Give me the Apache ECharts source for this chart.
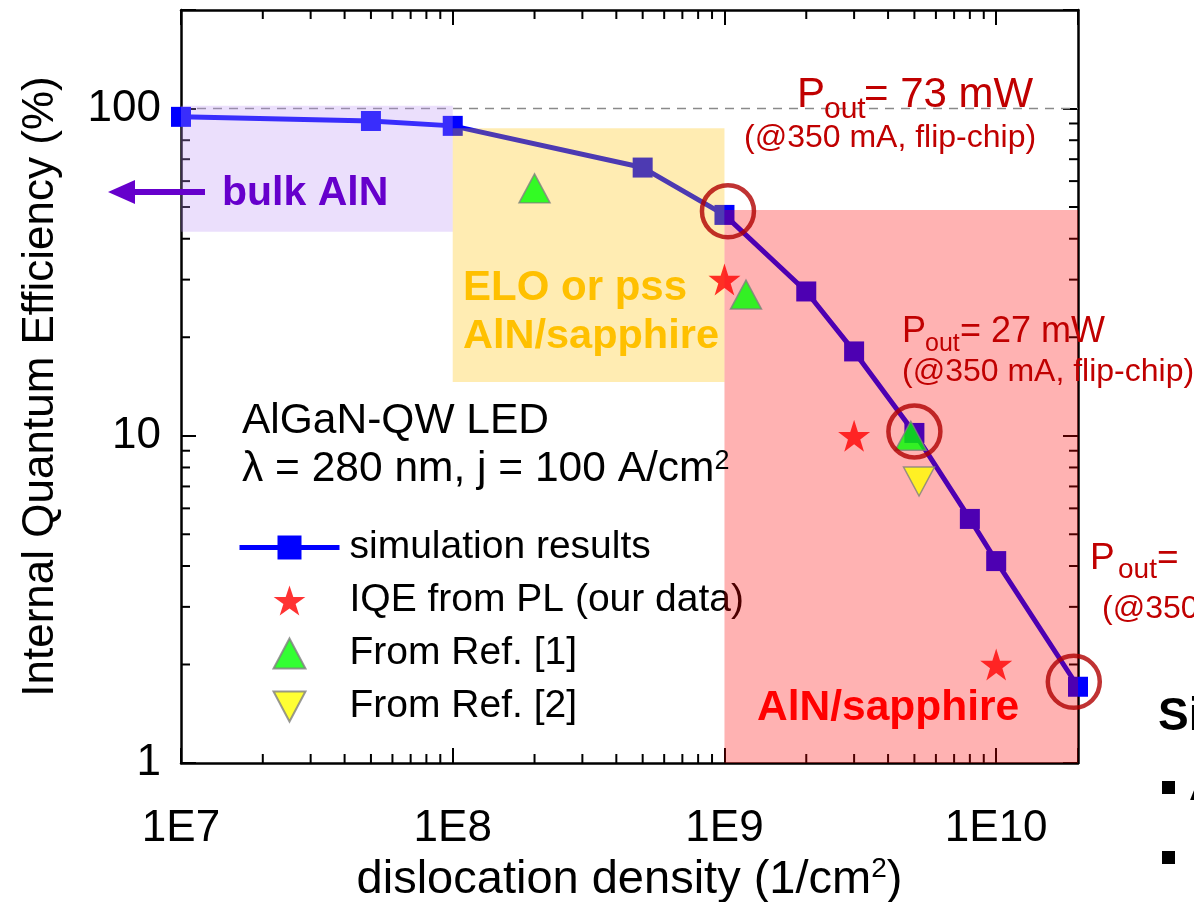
<!DOCTYPE html>
<html><head><meta charset="utf-8">
<script src="https://cdn.jsdelivr.net/npm/echarts@6/dist/echarts.min.js"></script>
<style>html,body{margin:0;padding:0;background:#fff}#c{width:1194px;height:902px}</style>
</head><body><div id="c"></div><script>
// ---- data ----
const simDensity = [1e7, 5e7, 1e8, 5e8, 1e9, 2e9, 3e9, 5e9, 8e9, 1e10, 2e10];
const simIQE     = [94.3, 91.6, 88.5, 66, 47.3, 27.6, 18.1, 10.2, 5.57, 4.14, 1.71];
const plDensity  = [1e9, 3e9, 1e10];
const plIQE      = [30, 10, 2.0];
const ref1Density = [2e8, 1.2e9, 4.85e9];
const ref1IQE     = [57, 27, 10];
const ref2Density = [5.2e9];
const ref2IQE     = [7.25];
const highlightDensity = [1.03e9, 5e9, 1.93e10];
const highlightIQE     = [48.5, 10.3, 1.77];
const guideDensity = [1e7, 2e10];
const guideIQE     = [100, 100];
const xTickLabels = {7: '1E7', 8: '1E8', 9: '1E9', 10: '1E10'};
const yTickLabels = {0: '1', 1: '10', 2: '100'};
const minorMultipliers = [2, 3, 4, 5, 6, 7, 8, 9];
const xMinorDecades = [1e7, 1e8, 1e9];
const yMinorDecades = [1, 10];
const seriesNames = ['simulation results', 'IQE from PL (our data)', 'From Ref. [1]', 'From Ref. [2]'];
const regionBulk     = [[1e7, 42], [1e8, 102]];
const regionELO      = [[1e8, 14.6], [1e9, 87]];
const regionSapphire = [[1e9, 1], [2e10, 49]];

// ---- helpers ----
const FONT = '"Liberation Sans", Arial, Helvetica, sans-serif';
const pair = (xs, ys) => xs.map((x, i) => [x, ys[i]]);
const xMinorTicks = [].concat(...xMinorDecades.map(d => minorMultipliers.map(m => m * d)));
const yMinorTicks = [].concat(...yMinorDecades.map(d => minorMultipliers.map(m => m * d)));
const decadeLabel = map => v => {
  const e = Math.log10(v), r = Math.round(e);
  return (Math.abs(e - r) < 1e-6 && map[r] !== undefined) ? map[r] : '';
};
const XMIN = 1e7, XMAX = 2e10, YMIN = 1, YMAX = 200;
const axisLine = {show: true, lineStyle: {color: '#000', width: 2.5}};
const axisTick = {show: true, inside: true, length: 15, lineStyle: {color: '#000', width: 2}};
const starPath = 'path://M50,0 L61.8,35.4 L99,35.4 L68.9,57.3 L80.3,92.7 L50,70.8 L19.7,92.7 L31.1,57.3 L1,35.4 L38.2,35.4 Z';
const triUpPath = 'path://M50,0 L100,94 L0,94 Z';
const triDownPath = 'path://M0,0 L100,0 L50,94 Z';

function txt(x, y, text, size, color, weight, rich) {
  const style = {text: text, fontFamily: FONT, fontSize: size, fontWeight: weight || 'normal',
            fill: color || '#000', align: 'left', verticalAlign: 'middle'};
  if (rich) style.rich = rich;
  return {type: 'text', x: x, y: y, silent: true, z: 50, style: style};
}

const chart = echarts.init(document.getElementById('c'), null, {renderer: 'canvas'});
const option = {
  animation: false,
  backgroundColor: '#fff',
  grid: {left: 181, right: 116, top: 10, bottom: 139, containLabel: false, outerBoundsMode: 'none'},
  xAxis: [
    {type: 'log', logBase: 10, min: XMIN, max: XMAX, position: 'bottom',
     name: '{a|dislocation density (1/cm}{s|2}{a|)}', nameLocation: 'middle', nameGap: 92,
     nameMoveOverlap: false,
     nameTextStyle: {fontFamily: FONT, fontSize: 47, color: '#000',
       rich: {a: {fontFamily: FONT, fontSize: 47, color: '#000'},
              s: {fontFamily: FONT, fontSize: 28, color: '#000', padding: [0, 0, 22, 0]}}},
     axisLine: axisLine, axisTick: axisTick,
     axisLabel: {formatter: decadeLabel(xTickLabels), fontFamily: FONT, fontSize: 44, color: '#000', margin: 44, showMinLabel: true, showMaxLabel: true},
     splitLine: {show: false}, minorTick: {show: false}, minorSplitLine: {show: false}},
    {type: 'log', logBase: 10, min: XMIN, max: XMAX, position: 'top',
     axisLine: axisLine, axisTick: axisTick, axisLabel: {show: false},
     splitLine: {show: false}}
  ],
  yAxis: [
    {type: 'log', logBase: 10, min: YMIN, max: YMAX, position: 'left',
     name: 'Internal Quantum Efficiency (%)', nameLocation: 'middle', nameGap: 118,
     nameMoveOverlap: false,
     nameTextStyle: {fontFamily: FONT, fontSize: 44, color: '#000'},
     axisLine: axisLine, axisTick: axisTick,
     axisLabel: {formatter: decadeLabel(yTickLabels), fontFamily: FONT, fontSize: 44, color: '#000', margin: 20, showMinLabel: true, showMaxLabel: true},
     splitLine: {show: false}, minorTick: {show: false}},
    {type: 'log', logBase: 10, min: YMIN, max: YMAX, position: 'right',
     axisLine: axisLine, axisTick: axisTick, axisLabel: {show: false},
     splitLine: {show: false}}
  ],
  legend: {
    orient: 'vertical', left: 232, top: 523, itemWidth: 100, itemHeight: 30, itemGap: 14,
    symbolKeepAspect: true,
    data: [
      {name: seriesNames[0], lineStyle: {width: 5, color: '#0000ff'}},
      {name: seriesNames[1]},
      {name: seriesNames[2]},
      {name: seriesNames[3]}
    ],
    selectedMode: false,
    textStyle: {fontFamily: FONT, fontSize: 39, lineHeight: 30, color: '#000', padding: [0, 0, 0, 5]}
  },
  series: [
    {type: 'custom', name: 'xMinor', coordinateSystem: 'cartesian2d', z: 1, silent: true, clip: false,
     data: xMinorTicks.map(v => [v, YMIN]),
     renderItem: (params, api) => {
       const v = api.value(0);
       const b = api.coord([v, YMIN]), t = api.coord([v, YMAX]);
       return {type: 'group', children: [
         {type: 'line', shape: {x1: b[0], y1: b[1], x2: b[0], y2: b[1] - 9}, style: {stroke: '#000', lineWidth: 2}},
         {type: 'line', shape: {x1: t[0], y1: t[1], x2: t[0], y2: t[1] + 9}, style: {stroke: '#000', lineWidth: 2}}
       ]};
     }},
    {type: 'custom', name: 'yMinor', coordinateSystem: 'cartesian2d', z: 1, silent: true, clip: false,
     data: yMinorTicks.map(v => [XMIN, v]),
     renderItem: (params, api) => {
       const v = api.value(1);
       const l = api.coord([XMIN, v]), r = api.coord([XMAX, v]);
       return {type: 'group', children: [
         {type: 'line', shape: {x1: l[0], y1: l[1], x2: l[0] + 9, y2: l[1]}, style: {stroke: '#000', lineWidth: 2}},
         {type: 'line', shape: {x1: r[0], y1: r[1], x2: r[0] - 9, y2: r[1]}, style: {stroke: '#000', lineWidth: 2}}
       ]};
     }},
    {type: 'line', name: 'simulation results', z: 3,
     data: pair(simDensity, simIQE),
     symbol: 'rect', symbolSize: 20, showAllSymbol: true,
     lineStyle: {color: '#0000ff', width: 5},
     itemStyle: {color: '#0000ff'}},
    {type: 'line', name: 'guide', z: 2, silent: true,
     data: pair(guideDensity, guideIQE), symbol: 'none',
     lineStyle: {color: '#8a8a8a', width: 1.5, type: [9, 7]},
     markArea: {silent: true, z: 4, data: [
       [{coord: regionBulk[0], itemStyle: {color: 'rgba(190,150,245,0.3)'}}, {coord: regionBulk[1]}],
       [{coord: regionELO[0], itemStyle: {color: 'rgba(255,192,0,0.3)'}}, {coord: regionELO[1]}],
       [{coord: regionSapphire[0], itemStyle: {color: 'rgba(255,0,0,0.3)'}}, {coord: regionSapphire[1]}]
     ]}},
    {type: 'scatter', name: 'IQE from PL (our data)', z: 6,
     data: pair(plDensity, plIQE), symbol: starPath, symbolSize: 32,
     itemStyle: {color: '#ff0000'}},
    {type: 'scatter', name: 'From Ref. [1]', z: 6,
     data: pair(ref1Density, ref1IQE), symbol: triUpPath, symbolSize: [31, 29],
     itemStyle: {color: '#00ff00', borderColor: '#808080', borderWidth: 1.5}},
    {type: 'scatter', name: 'From Ref. [2]', z: 6,
     data: pair(ref2Density, ref2IQE), symbol: triDownPath, symbolSize: [31, 29],
     itemStyle: {color: '#ffff00', borderColor: '#808080', borderWidth: 1.5}},
    {type: 'scatter', name: 'highlight', z: 7, clip: false,
     data: pair(highlightDensity, highlightIQE), symbol: 'circle', symbolSize: 52,
     itemStyle: {color: 'rgba(0,0,0,0)', borderColor: '#b00000', borderWidth: 4.5}}
  ],
  graphic: [
    txt(242, 421, 'AlGaN-QW LED', 42.5),
    txt(242, 469, '{a|λ = 280 nm, j = 100 A/cm}{s|2}', 42, '#000', 'normal',
        {a: {fontFamily: FONT, fontSize: 42.5, fill: '#000'},
         s: {fontFamily: FONT, fontSize: 27, fill: '#000', padding: [0, 0, 14, 0]}}),
    txt(222, 194, 'bulk AlN', 41, '#6600cc', 'bold'),
    {type: 'line', silent: true, z: 50, shape: {x1: 205, y1: 192, x2: 128, y2: 192}, style: {stroke: '#6600cc', lineWidth: 6}},
    {type: 'polygon', silent: true, z: 50, shape: {points: [[108, 192], [135, 180], [135, 204]]}, style: {fill: '#6600cc'}},
    txt(463, 288, 'ELO or pss', 42, '#ffc000', 'bold'),
    txt(463, 337, 'AlN/sapphire', 41.5, '#ffc000', 'bold'),
    txt(757, 708, 'AlN/sapphire', 42.5, '#ff0000', 'bold'),
    txt(797, 95, 'P', 42, '#c00000'),
    txt(824, 110, 'out', 30, '#c00000'),
    txt(864, 95, '= 73 mW', 42, '#c00000'),
    txt(744, 138, '(@350 mA, flip-chip)', 32, '#c00000'),
    txt(902, 332, 'P', 36, '#c00000'),
    txt(925, 344, 'out', 25, '#c00000'),
    txt(960, 332, '= 27 mW', 36, '#c00000'),
    txt(902, 372, '(@350 mA, flip-chip)', 32, '#c00000'),
    txt(1090, 559, 'P', 37, '#c00000'),
    txt(1118, 570, 'out', 28, '#c00000'),
    txt(1157, 559, '=', 37, '#c00000'),
    txt(1102, 609, '(@350', 32, '#c00000'),
    txt(1158, 717, 'Si', 46, '#000', 'bold'),
    {type: 'rect', silent: true, z: 50, shape: {x: 1162, y: 781, width: 13, height: 13}, style: {fill: '#000'}},
    {type: 'rect', silent: true, z: 50, shape: {x: 1162, y: 851, width: 13, height: 13}, style: {fill: '#000'}},
    txt(1190, 789, 'A', 40, '#000')
  ]
};
chart.setOption(option);
</script></body></html>
